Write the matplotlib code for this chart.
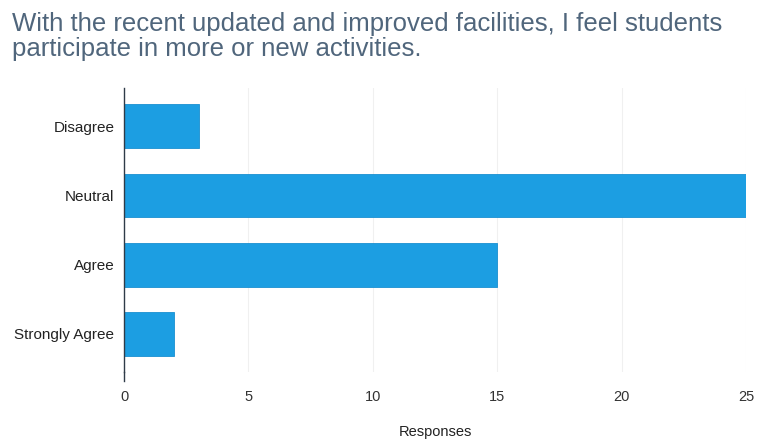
import matplotlib.pyplot as plt
import matplotlib.transforms as mtransforms

categories = ["Disagree", "Neutral", "Agree", "Strongly Agree"]
responses = [3, 25, 15, 2]
x_ticks = [0, 5, 10, 15, 20, 25]

title = ("With the recent updated and improved facilities, I feel students\n"
         "participate in more or new activities.")

plt.rcParams["font.family"] = ["Liberation Sans", "DejaVu Sans"]

fig = plt.figure(figsize=(7.59, 4.45), dpi=100)
ax = fig.add_axes([0.1634, 0.164, 0.8196, 0.638])

ypos = list(range(len(categories)))
ax.barh(ypos, responses, height=0.63, color="#1c9ee2", edgecolor="#1a8fd0",
        linewidth=0.6, zorder=2)

ax.set_ylim(3.55, -0.55)
ax.set_xlim(0, 25)
ax.set_yticks(ypos)
ax.set_yticklabels(categories, fontsize=11, color="#222222")
ax.set_xticks(x_ticks)
ax.set_xticklabels([str(t) for t in x_ticks], fontsize=10.5, color="#333333")
ax.tick_params(axis="y", length=0, pad=7)
ax.tick_params(axis="x", length=0, pad=13)

for t in x_ticks[1:]:
    ax.axvline(t, color="#f0f0f0", lw=0.8, zorder=0)

for side in ("top", "right", "bottom"):
    ax.spines[side].set_visible(False)
ax.spines["left"].set_color("#2f3b48")
ax.spines["left"].set_linewidth(1.0)

# short tick mark under the zero line
trans = mtransforms.blended_transform_factory(ax.transData, ax.transAxes)
ax.plot([0, 0], [0, -0.03], transform=trans, color="#2f3b48", lw=1.0,
        clip_on=False)

ax.set_xlabel("Responses", fontsize=10.5, color="#222222", labelpad=15)

fig.text(0.016, 0.972, title, fontsize=18.5, color="#50667c",
         ha="left", va="top", linespacing=1.05)

fig.savefig("out.png", dpi=100)
